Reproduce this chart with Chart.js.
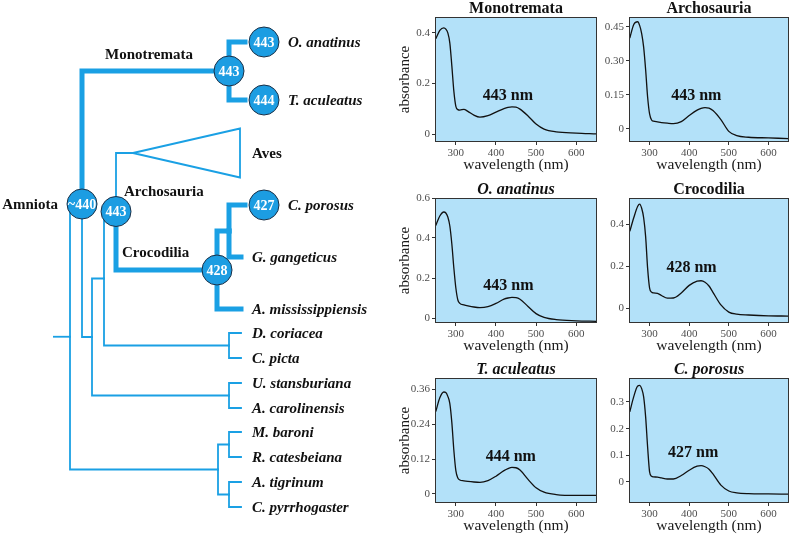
<!DOCTYPE html>
<html>
<head>
<meta charset="utf-8">
<script src="https://cdn.jsdelivr.net/npm/chart.js@4"></script>
<style>
  body { margin: 0; background: #fff; }
  #wrap { position: relative; width: 791px; height: 534px; overflow: hidden; }
  canvas { position: absolute; }
</style>
</head>
<body>
<div id="wrap">
  <canvas id="tree" width="391" height="534" style="left:0;top:0"></canvas>
  <canvas id="p0" width="210" height="173" style="left:390px;top:0"></canvas>
  <canvas id="p1" width="191" height="173" style="left:600px;top:0"></canvas>
  <canvas id="p2" width="210" height="173" style="left:390px;top:181px"></canvas>
  <canvas id="p3" width="191" height="173" style="left:600px;top:181px"></canvas>
  <canvas id="p4" width="210" height="173" style="left:390px;top:361px"></canvas>
  <canvas id="p5" width="191" height="173" style="left:600px;top:361px"></canvas>
</div>
<script>
const SERIF = "'Liberation Serif', 'Times New Roman', serif";
const TREE_BLUE = "#1aa0e4";
const PANEL_BG = "#b3e1f9";

// ---------- tree (cladogram) ----------
const treeNodes   = ["root", "amniota", "mono", "oAna", "tAcu", "sauria", "archelosaur", "archosauria", "aves", "croc", "crocGav", "cPor", "gGan", "aMis", "turtles", "dCor", "cPic", "squam", "uSta", "aCar", "amphib", "anura", "mBar", "rCat", "caudata", "aTig", "cPyr"];
const treeParents = [null, "root", "amniota", "mono", "mono", "amniota", "sauria", "archelosaur", "archosauria", "archosauria", "croc", "crocGav", "crocGav", "croc", "archelosaur", "turtles", "turtles", "sauria", "squam", "squam", "root", "amphib", "anura", "anura", "amphib", "caudata", "caudata"];
const treeDepth   = [70, 82, 229, 245, 245, 92, 104, 116, 133, 217, 229, 245, 241, 241, 229, 241, 241, 229, 241, 241, 218, 229, 241, 241, 229, 241, 241];
const thickBranches = ["mono", "oAna", "tAcu", "croc", "crocGav", "cPor", "gGan", "aMis"];
const rootStemDepth = 53;

const tipOrder = ["oAna", "tAcu", "aves", "cPor", "gGan", "aMis", "dCor", "cPic", "uSta", "aCar", "mBar", "rCat", "aTig", "cPyr"];
const tipNames = ["O. anatinus", "T. aculeatus", "Aves", "C. porosus", "G. gangeticus", "A. mississippiensis", "D. coriacea", "C. picta", "U. stansburiana", "A. carolinensis", "M. baroni", "R. catesbeiana", "A. tigrinum", "C. pyrrhogaster"];
const tipRows = [0, 2.32, 4.44, 6.52, 8.6, 10.68, 11.64, 12.64, 13.64, 14.64, 15.6, 16.6, 17.6, 18.6];
const tipLabelDepth = [288, 288, 252, 288, 252, 252, 252, 252, 252, 252, 252, 252, 252, 252];

// collapsed Aves clade wedge
const avesWedgeDepth = 240;
const avesWedgeSpread = 0.98;

// lambda max circles
const circleNodes = ["amniota", "archosauria", "mono", "oAna", "tAcu", "cPor", "croc"];
const circleDepth = [82, 116, 229, 264, 264, 264, 217];
const circleText  = ["~440", "443", "443", "443", "444", "427", "428"];

const cladeNames = ["Monotremata", "Amniota", "Archosauria", "Crocodilia"];
const cladeDepth = [149, 58, 124, 122];
const cladeRows  = [0.48, 6.48, 5.96, 8.4];
const cladeAlign = ["center", "right", "left", "left"];

// ---------- spectra ----------
const wavelength = [250, 260, 270, 275, 280, 285, 290, 295, 300, 305, 310, 320, 330, 345, 360, 380, 400, 420, 430, 440, 450, 460, 480, 500, 520, 550, 600, 650];
const absMonotremata = [0.377, 0.41, 0.42, 0.415, 0.40, 0.36, 0.27, 0.17, 0.11, 0.097, 0.095, 0.098, 0.09, 0.075, 0.067, 0.073, 0.087, 0.101, 0.106, 0.108, 0.107, 0.099, 0.072, 0.04, 0.02, 0.009, 0.004, 0.001];
const absArchosauria = [0.40, 0.46, 0.472, 0.455, 0.42, 0.36, 0.26, 0.14, 0.065, 0.038, 0.033, 0.030, 0.027, 0.024, 0.022, 0.031, 0.058, 0.082, 0.09, 0.093, 0.091, 0.080, 0.040, -0.012, -0.031, -0.038, -0.041, -0.044];
const absAnatinus    = [0.463, 0.51, 0.53, 0.525, 0.505, 0.46, 0.37, 0.25, 0.15, 0.09, 0.073, 0.066, 0.061, 0.055, 0.052, 0.057, 0.073, 0.094, 0.1, 0.103, 0.102, 0.094, 0.058, 0.022, 0.003, -0.008, -0.014, -0.017];
const absCrocodilia  = [0.365, 0.43, 0.485, 0.495, 0.475, 0.43, 0.34, 0.19, 0.095, 0.076, 0.072, 0.07, 0.06, 0.047, 0.048, 0.072, 0.108, 0.128, 0.13, 0.123, 0.105, 0.075, 0.015, -0.019, -0.029, -0.033, -0.037, -0.038];
const absAculeatus   = [0.283, 0.33, 0.35, 0.348, 0.335, 0.31, 0.245, 0.15, 0.08, 0.055, 0.048, 0.045, 0.043, 0.041, 0.040, 0.046, 0.061, 0.080, 0.087, 0.091, 0.09, 0.082, 0.05, 0.021, 0.006, -0.002, -0.005, -0.005];
const absPorosus     = [0.263, 0.32, 0.36, 0.362, 0.35, 0.319, 0.244, 0.131, 0.038, 0.021, 0.019, 0.018, 0.015, 0.011, 0.011, 0.024, 0.044, 0.059, 0.061, 0.057, 0.048, 0.03, -0.012, -0.034, -0.041, -0.044, -0.045, -0.046];

const panelTitles = ["Monotremata", "Archosauria", "O. anatinus", "Crocodilia", "T. aculeatus", "C. porosus"];
const panelItalic = [false, false, true, false, true, true];
const panelSpectra = [absMonotremata, absArchosauria, absAnatinus, absCrocodilia, absAculeatus, absPorosus];
const peakText = ["443 nm", "443 nm", "443 nm", "428 nm", "444 nm", "427 nm"];
const peakTextX = [430, 418, 431, 406, 437, 410];
const peakTextY = [0.153, 0.146, 0.163, 0.19, 0.129, 0.109];
const yMin = [-0.031, -0.059, -0.025, -0.071, -0.031, -0.079];
const yMax = [0.463, 0.493, 0.6, 0.524, 0.398, 0.39];
const yTicks = [[0, 0.2, 0.4], [0, 0.15, 0.3, 0.45], [0, 0.2, 0.4, 0.6], [0, 0.2, 0.4], [0, 0.12, 0.24, 0.36], [0, 0.1, 0.2, 0.3]];
const yTickLabels = [["0", "0.2", "0.4"], ["0", "0.15", "0.30", "0.45"], ["0", "0.2", "0.4", "0.6"], ["0", "0.2", "0.4"], ["0", "0.12", "0.24", "0.36"], ["0", "0.1", "0.2", "0.3"]];
const xTicks = [300, 400, 500, 600];
const xRange = [248, 652];

// ---------- tree chart ----------
const leafRow = {};
tipOrder.forEach((n, i) => { leafRow[n] = tipRows[i]; });
const children = {};
treeNodes.forEach((n, i) => {
  const p = treeParents[i];
  if (p) (children[p] = children[p] || []).push(n);
});
function rowOf(n) {
  if (n in leafRow) return leafRow[n];
  const r = children[n].map(rowOf);
  return (Math.min(...r) + Math.max(...r)) / 2;
}
function depthOf(n) {
  return treeDepth[treeNodes.indexOf(n)];
}

const branchSets = [];
treeNodes.forEach((n, i) => {
  const p = treeParents[i];
  if (!p) return;
  const thick = thickBranches.includes(n);
  branchSets.push({
    data: [
      { x: depthOf(p), y: rowOf(p) },
      { x: depthOf(p), y: rowOf(n) },
      { x: depthOf(n), y: rowOf(n) }
    ],
    showLine: true,
    borderColor: TREE_BLUE,
    borderWidth: thick ? 5 : 1.8,
    borderCapStyle: "square",
    borderJoinStyle: "miter",
    pointRadius: 0,
    order: 2
  });
});
// root stem
branchSets.push({
  data: [{ x: rootStemDepth, y: rowOf("root") }, { x: depthOf("root"), y: rowOf("root") }],
  showLine: true, borderColor: TREE_BLUE, borderWidth: 1.8, pointRadius: 0, order: 2
});
// Aves wedge
const avesRow = rowOf("aves");
branchSets.push({
  data: [
    { x: depthOf("aves"), y: avesRow },
    { x: avesWedgeDepth, y: avesRow - avesWedgeSpread },
    { x: avesWedgeDepth, y: avesRow + avesWedgeSpread },
    { x: depthOf("aves"), y: avesRow }
  ],
  showLine: true, borderColor: TREE_BLUE, borderWidth: 1.8, borderJoinStyle: "miter", pointRadius: 0, order: 2
});

const circleSet = {
  data: circleNodes.map((n, i) => ({ x: circleDepth[i], y: rowOf(n) })),
  showLine: false,
  pointRadius: 15,
  pointHoverRadius: 15,
  pointBackgroundColor: "#1c9de2",
  pointBorderColor: "#1b2f45",
  pointBorderWidth: 1,
  order: 0
};

const treeText = {
  id: "treeText",
  afterDatasetsDraw(chart) {
    const { ctx, scales: { x, y } } = chart;
    ctx.save();
    ctx.textBaseline = "middle";
    // circle values
    ctx.fillStyle = "#ffffff";
    ctx.textAlign = "center";
    ctx.font = "bold 14px " + SERIF;
    circleNodes.forEach((n, i) => {
      ctx.fillText(circleText[i], x.getPixelForValue(circleDepth[i]), y.getPixelForValue(rowOf(n)) + 1);
    });
    // tip labels
    ctx.fillStyle = "#111111";
    ctx.textAlign = "left";
    tipNames.forEach((t, i) => {
      ctx.font = (t === "Aves" ? "bold 15px " : "italic bold 15px ") + SERIF;
      ctx.fillText(t, x.getPixelForValue(tipLabelDepth[i]), y.getPixelForValue(tipRows[i]) + 1);
    });
    // clade labels
    ctx.font = "bold 15px " + SERIF;
    cladeNames.forEach((t, i) => {
      ctx.textAlign = cladeAlign[i];
      ctx.fillText(t, x.getPixelForValue(cladeDepth[i]), y.getPixelForValue(cladeRows[i]) + 1);
    });
    ctx.restore();
  }
};

new Chart(document.getElementById("tree").getContext("2d"), {
  type: "scatter",
  data: { datasets: [circleSet, ...branchSets] },
  options: {
    responsive: false,
    animation: false,
    events: [],
    layout: { padding: 0, autoPadding: false },
    plugins: { legend: { display: false }, tooltip: { enabled: false } },
    scales: {
      x: { type: "linear", min: 0, max: 391, display: false },
      y: { type: "linear", min: -1.68, max: 19.68, reverse: true, display: false }
    }
  },
  plugins: [treeText]
});

// ---------- spectra panels ----------
const panelFrame = {
  id: "panelFrame",
  beforeDraw(chart) {
    const { ctx, chartArea: a } = chart;
    ctx.save();
    ctx.fillStyle = PANEL_BG;
    ctx.fillRect(a.left, a.top, a.right - a.left, a.bottom - a.top);
    ctx.restore();
  },
  afterDraw(chart) {
    const { ctx, chartArea: a } = chart;
    ctx.save();
    ctx.strokeStyle = "#333333";
    ctx.lineWidth = 1;
    ctx.strokeRect(Math.round(a.left) + 0.5, Math.round(a.top) + 0.5, Math.round(a.right - a.left) - 1, Math.round(a.bottom - a.top) - 1);
    ctx.restore();
  }
};

const peakNote = {
  id: "peakNote",
  afterDatasetsDraw(chart, args, opts) {
    const { ctx, scales: { x, y } } = chart;
    ctx.save();
    ctx.font = "bold 16px " + SERIF;
    ctx.fillStyle = "#111111";
    ctx.textAlign = "center";
    ctx.textBaseline = "middle";
    ctx.fillText(opts.text, x.getPixelForValue(opts.x), y.getPixelForValue(opts.y));
    ctx.restore();
  }
};

function renderPanel(i) {
  const leftCol = i % 2 === 0;
  const ctx = document.getElementById("p" + i).getContext("2d");
  return new Chart(ctx, {
    type: "scatter",
    data: {
      datasets: [{
        data: wavelength.map((w, k) => ({ x: w, y: panelSpectra[i][k] })),
        showLine: true,
        borderColor: "#111111",
        borderWidth: 1.3,
        pointRadius: 0,
        cubicInterpolationMode: "monotone"
      }]
    },
    options: {
      responsive: false,
      animation: false,
      events: [],
      layout: { padding: { top: 1, right: leftCol ? 3 : 2, bottom: 0, left: 0 }, autoPadding: false },
      plugins: {
        legend: { display: false },
        tooltip: { enabled: false },
        title: {
          display: true,
          fullSize: false,
          text: panelTitles[i],
          color: "#111111",
          padding: 0,
          font: { family: SERIF, size: 16, weight: "bold", style: panelItalic[i] ? "italic" : "normal", lineHeight: 1 }
        },
        peakNote: { text: peakText[i], x: peakTextX[i], y: peakTextY[i] }
      },
      scales: {
        x: {
          type: "linear",
          min: xRange[0],
          max: xRange[1],
          afterBuildTicks: s => { s.ticks = xTicks.map(v => ({ value: v })); },
          afterFit: s => { s.height = 31; },
          grid: { drawOnChartArea: false, tickLength: 3, color: "#333333" },
          border: { display: false },
          ticks: { color: "#4d4d4d", padding: 2, maxRotation: 0, autoSkip: false, font: { family: SERIF, size: 11 } },
          title: { display: true, text: "wavelength (nm)", color: "#1a1a1a", padding: 0, font: { family: SERIF, size: 15.5, lineHeight: 1 } }
        },
        y: {
          type: "linear",
          min: yMin[i],
          max: yMax[i],
          afterBuildTicks: s => { s.ticks = yTicks[i].map(v => ({ value: v })); },
          afterFit: s => { s.width = leftCol ? 45 : 29; },
          grid: { drawOnChartArea: false, tickLength: 3, color: "#333333" },
          border: { display: false },
          ticks: {
            color: "#4d4d4d", padding: 2, autoSkip: false, font: { family: SERIF, size: 11 },
            callback: (v, idx) => yTickLabels[i][idx]
          },
          title: { display: leftCol, text: "absorbance", color: "#1a1a1a", padding: { top: 6 }, font: { family: SERIF, size: 15, lineHeight: 1.2 } }
        }
      }
    },
    plugins: [panelFrame, peakNote]
  });
}

for (let i = 0; i < 6; i++) renderPanel(i);
</script>
</body>
</html>
